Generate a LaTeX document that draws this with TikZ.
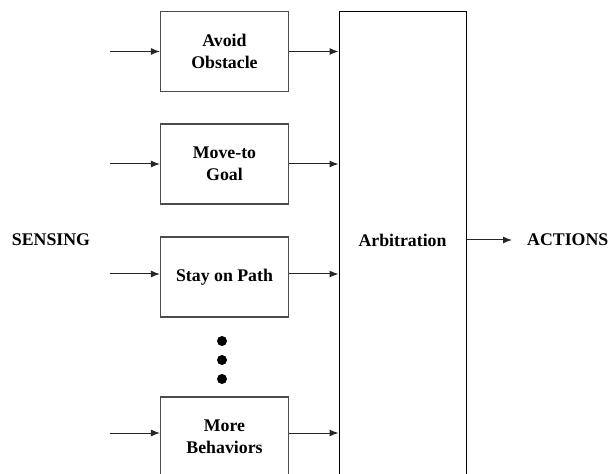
\documentclass[tikz,border=0pt]{standalone}
\usepackage{fontspec}
\setmainfont{Liberation Serif}
\usetikzlibrary{arrows.meta}
\begin{document}
\begin{tikzpicture}[x=1bp,y=-1bp,
  every node/.style={font=\fontsize{17.8bp}{22bp}\selectfont\bfseries},
  behbox/.style={draw=black!70,line width=1.2bp,minimum width=128bp,minimum height=80bp,align=center,inner sep=0pt},
  arbbox/.style={draw=black,line width=1bp,minimum width=127bp,minimum height=470bp,inner sep=0pt},
  lbl/.style={inner sep=0pt},
  arr/.style={line width=1bp,draw=black!85,-{Latex[length=9bp,width=7bp]}},
  dotc/.style={fill=black,circle,inner sep=0pt,minimum size=10bp}]
\useasboundingbox (0,0) rectangle (613,474);
\clip (0,0) rectangle (613,474);
\node[behbox] (avoid) at (224.5,51.5) {Avoid\\Obstacle};
\node[behbox] (move) at (224.5,164) {Move-to\\Goal};
\node[behbox] (stay) at (224.5,277) {Stay on Path};
\node[behbox] (more) at (224.5,437) {More\\Behaviors};
\node[arbbox] (arb) at (402.5,247) {};
\node[lbl] (arbt) at (402.5,240) {Arbitration};
\node[lbl] (sens) at (51,240) {SENSING};
\node[lbl,anchor=west] (act) at (527,240) {ACTIONS};
\coordinate (i1) at (110,51.5);
\coordinate (i2) at (110,164);
\coordinate (i3) at (110,274);
\coordinate (i4) at (110,433);
\draw[arr] (i1) -- (i1 -| avoid.west);
\draw[arr] (i2) -- (i2 -| move.west);
\draw[arr] (i3) -- (i3 -| stay.west);
\draw[arr] (i4) -- (i4 -| more.west);
\draw[arr] (i1 -| avoid.east) -- (i1 -| arb.west);
\draw[arr] (i2 -| move.east) -- (i2 -| arb.west);
\draw[arr] (i3 -| stay.east) -- (i3 -| arb.west);
\draw[arr] (i4 -| more.east) -- (i4 -| arb.west);
\draw[arr] (arb.east |- act) -- ([xshift=-15bp]act.west);
\node[dotc] (d1) at (222,341) {};
\node[dotc] (d2) at (222,360) {};
\node[dotc] (d3) at (222,379) {};
\end{tikzpicture}
\end{document}
